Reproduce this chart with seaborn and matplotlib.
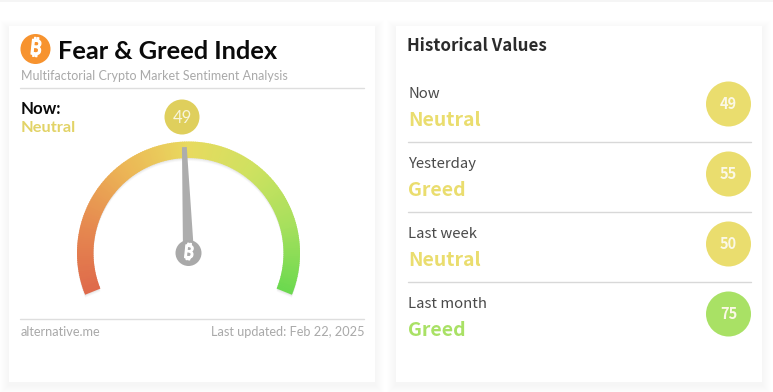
import numpy as np
import pandas as pd
import matplotlib
matplotlib.use("Agg")
import matplotlib.pyplot as plt
import matplotlib.patheffects as pe
from matplotlib.patches import Circle, Polygon, Rectangle
import seaborn as sns

# data
current_value = 49
current_label = "Neutral"
periods = ["Now", "Yesterday", "Last week", "Last month"]
labels = ["Neutral", "Greed", "Neutral", "Greed"]
values = [49, 55, 50, 75]
row_colors = ["#eadd6e", "#eadd6e", "#eadd6e", "#a9e165"]
gauge_stops = ["#df6a4b", "#e68a50", "#ecb656", "#e8da5f", "#cfe160", "#a8e05d", "#6cd94f"]

W, H = 773, 392
sans = ["Noto Sans CJK SC", "DejaVu Sans"]
sns.set_theme(style="white")
plt.rcParams["font.family"] = ["Lato", "DejaVu Sans"]

fig = plt.figure(figsize=(W / 100, H / 100), dpi=100)
ax = fig.add_axes([0, 0, 1, 1])
ax.set_xlim(0, W)
ax.set_ylim(H, 0)
ax.axis("off")


def card(x0, x1, y0, y1):
    for grow in range(9, 0, -1):
        ax.add_patch(Rectangle((x0 - grow, y0 - grow + 3), x1 - x0 + 2 * grow, y1 - y0 + 2 * grow,
                               fc="#000000", alpha=0.004, ec="none", zorder=1))
    ax.add_patch(Rectangle((x0, y0), x1 - x0, y1 - y0, fc="white", ec="none", zorder=2))


def btc_logo(x, y, r, color, size):
    ax.add_patch(Circle((x, y), r, fc=color, ec="none", zorder=6))
    ax.text(x, y, "\u20bf", color="white", fontsize=size, fontweight="bold",
            family=["Noto Sans", "Inter", "Roboto", "Open Sans", "DejaVu Sans"],
            rotation=-6, ha="center", va="center", zorder=7,
            path_effects=[pe.withStroke(linewidth=0.9, foreground="white")])


# faint edge of whatever sits above the cards
ax.add_patch(Rectangle((0, 0), W, 2, fc="#f5f5f5", ec="none", zorder=1))
card(9, 375, 26, 382)
card(396, 762, 26, 382)

# left card header
btc_logo(35.5, 49, 15, "#f7932f", 15)
ax.text(58, 51, "Fear & Greed Index", fontsize=18.3, fontweight="bold", color="#0a0a0a",
        va="center", zorder=5)
ax.text(21, 75.5, "Multifactorial Crypto Market Sentiment Analysis", fontsize=9.0, color="#a9a9a9",
        va="center", zorder=5)
ax.plot([20, 364], [88, 88], color="#dedede", lw=1, zorder=5)
ax.text(21, 109, "Now:", fontsize=12.2, fontweight="bold", color="#0a0a0a", va="center", zorder=5)
ax.text(21, 128, current_label, fontsize=11.8, fontweight="bold", color="#e2d367", va="center", zorder=5)

# gauge
cx, cy = 188.5, 253
r_out, r_in = 111.5, 95
a_start, a_end = 202, -22


def val2ang(v):
    return np.radians(a_start + (a_end - a_start) * v / 100)


def ring(a0, a1, dy=0, n=6):
    t = np.linspace(a0, a1, n)
    xs = np.r_[cx + r_out * np.cos(t), cx + r_in * np.cos(t[::-1])]
    ys = np.r_[cy + dy - r_out * np.sin(t), cy + dy - r_in * np.sin(t[::-1])]
    return np.c_[xs, ys]


n_seg = 200
pal = sns.blend_palette(gauge_stops, n_colors=n_seg)
for dy, alpha in [(3, 0.025), (2, 0.03), (1, 0.04)]:
    ax.add_patch(Polygon(ring(val2ang(0), val2ang(100), dy, n=200), fc="black", ec="none", alpha=alpha, zorder=3))
for i in range(n_seg):
    ax.add_patch(Polygon(ring(val2ang(100 * i / n_seg), val2ang(100 * (i + 1.4) / n_seg if i < n_seg - 1 else 100)),
                         fc=pal[i], ec="none", zorder=4))

# needle
ang = val2ang(current_value)
ux, uy = np.cos(ang), -np.sin(ang)
px, py = -uy, ux
tip_r = 106
needle = [(cx + ux * tip_r + px * 2.4, cy + uy * tip_r + py * 2.4),
          (cx + ux * tip_r - px * 2.4, cy + uy * tip_r - py * 2.4),
          (cx - px * 5.5, cy - py * 5.5),
          (cx + px * 5.5, cy + py * 5.5)]
ax.add_patch(Polygon(needle, fc="#adadad", ec="none", zorder=5))
btc_logo(cx, cy, 13, "#a9a9a9", 13)

# value badge over the gauge
ax.add_patch(Circle((182, 117), 17.5, fc="#dfcf5c", ec="none", zorder=5))
ax.text(182, 117.5, str(current_value), fontsize=12, color="#f8f5dc", ha="center", va="center", zorder=6)

# left footer
ax.plot([20, 364], [318.5, 318.5], color="#dedede", lw=1, zorder=5)
ax.text(20.5, 332, "alternative.me", fontsize=9.2, color="#a9a9a9", va="center", zorder=5)
ax.text(364.5, 332, "Last updated: Feb 22, 2025", fontsize=9.2, color="#a9a9a9", va="center", ha="right", zorder=5)

# right card
ax.text(407, 46, "Historical Values", fontsize=12.2, fontweight="bold", family=sans,
        color="#2b2b2b", va="center", zorder=5)
df = pd.DataFrame({"period": periods, "label": labels, "value": values, "color": row_colors})
df["row"] = range(len(df))
row_h = 70
top = 104
df["y"] = top + df["row"] * row_h
df["x"] = 728.5
sns.scatterplot(data=df, x="x", y="y", hue="period", palette=dict(zip(periods, row_colors)),
                s=1050, linewidth=0, legend=False, ax=ax, zorder=5)
ax.set_xlim(0, W)
ax.set_ylim(H, 0)
ax.set_xlabel("")
ax.set_ylabel("")
for _, r in df.iterrows():
    ax.text(408, r["y"] - 10.5, r["period"], fontsize=10.7, family=sans, color="#4a4a4a",
            va="center", zorder=6)
    ax.text(408, r["y"] + 16, r["label"], fontsize=14, fontweight="bold", family=sans,
            color=r["color"], va="center", zorder=6)
    ax.text(r["x"], r["y"], str(r["value"]), fontsize=10.5, fontweight="bold", family=sans,
            color="#fbf8e6", ha="center", va="center", zorder=6)
    if r["row"] < len(df) - 1:
        ax.plot([408, 751], [r["y"] + 38, r["y"] + 38], color="#d8d8d8", lw=1, zorder=5)

fig.savefig("out.png", dpi=100, facecolor="white")
